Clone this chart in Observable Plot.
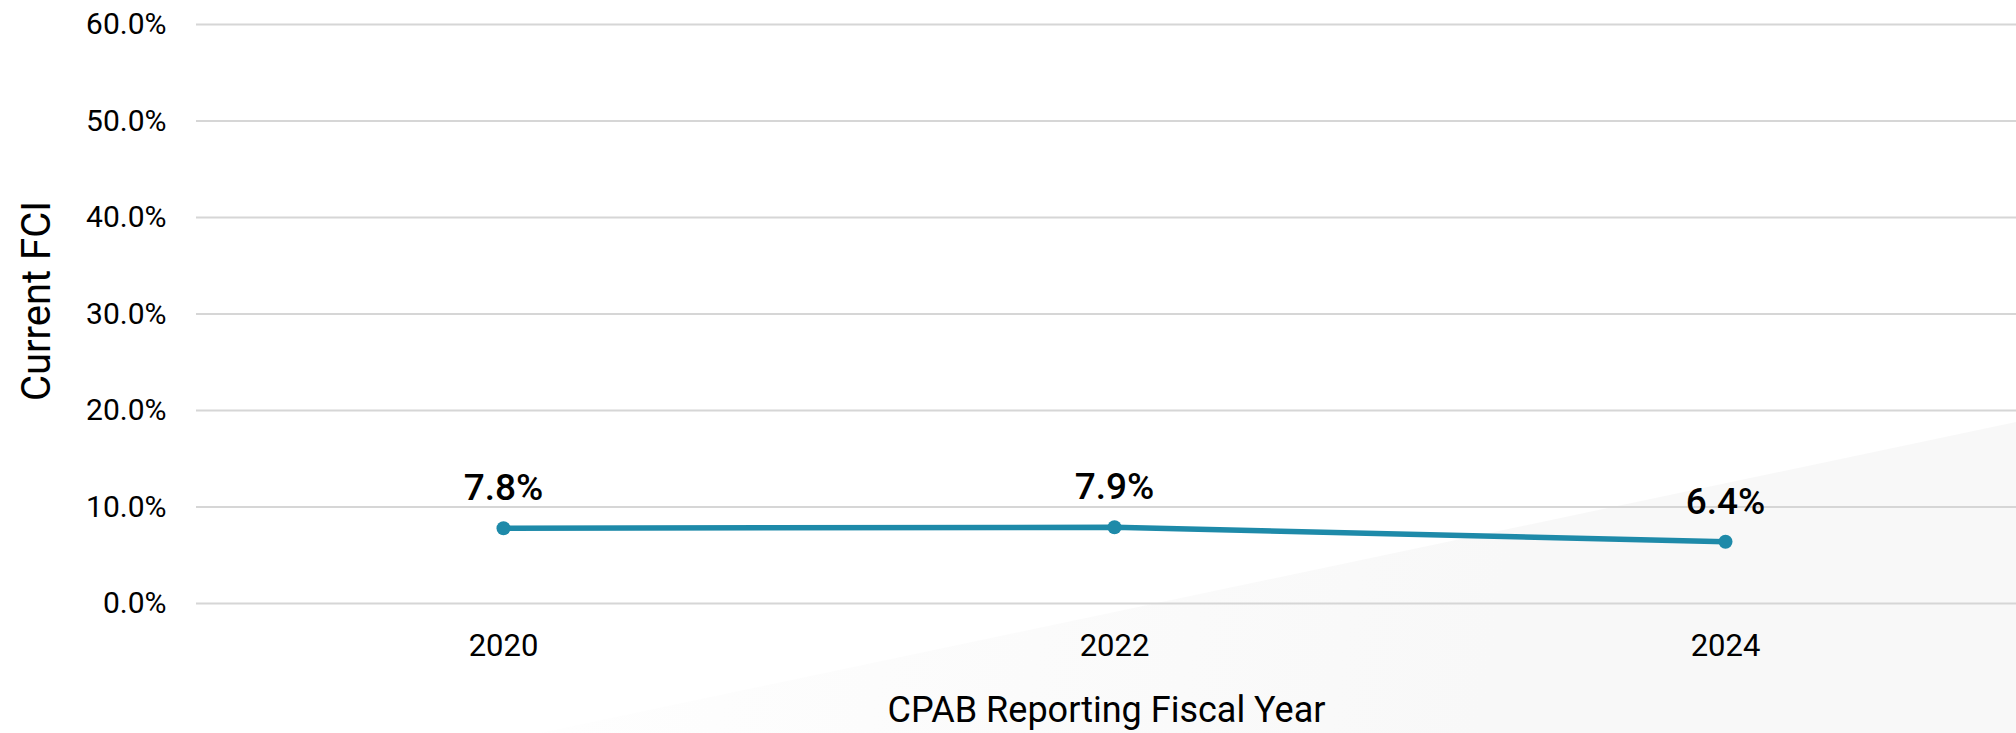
<!DOCTYPE html>
<html>
<head>
<meta charset="utf-8">
<script src="https://cdn.jsdelivr.net/npm/d3@7"></script>
<script src="https://cdn.jsdelivr.net/npm/@observablehq/plot@0.6"></script>
<style>
  html, body { margin: 0; padding: 0; background: #ffffff; }
  #wrap { position: relative; width: 2016px; height: 733px; overflow: hidden; }
  #bg { position: absolute; left: 0; top: 0; width: 2016px; height: 733px;
        background: linear-gradient(100deg, #ffffff 25%, #f8f8f8 75%);
        clip-path: polygon(540px 733px, 2016px 422px, 2016px 733px); }
  #chart { position: absolute; left: 0; top: 0; }
  #chart svg { background: transparent; }
</style>
</head>
<body>
<div id="wrap"><div id="bg"></div><div id="chart"></div></div>
<script>
const years = ["2020", "2022", "2024"];
const fciValues = [7.8, 7.9, 6.4];
const yTicks = [0, 10, 20, 30, 40, 50, 60];
const xTitle = "CPAB Reporting Fiscal Year";
const yTitle = "Current FCI";

const data = years.map((y, i) => ({year: y, value: fciValues[i]}));
const teal = "#1e8aa9";

const chart = Plot.plot({
  width: 2016,
  height: 733,
  marginLeft: 196,
  marginRight: 0,
  marginTop: 24,
  marginBottom: 130,
  style: {fontFamily: "Roboto", fontSize: "30px", color: "#000", background: "transparent"},
  x: {type: "point", domain: years, range: [197, 2030]},
  y: {domain: [0, 60]},
  marks: [
    Plot.ruleY(yTicks, {stroke: "#d6d6d6", strokeWidth: 2}),
    Plot.axisY({ticks: yTicks, tickSize: 0, tickPadding: 30, tickFormat: d => d.toFixed(1) + "%",
      fontSize: 30, label: null}),
    Plot.text([yTitle], {frameAnchor: "left", rotate: -90, lineAnchor: "top", textAnchor: "middle",
      dx: -175, dy: -13, fontSize: 40, fill: "#000"}),
    Plot.axisX({tickSize: 0, tickPadding: 30, fontSize: 31, label: null}),
    Plot.axisX({ticks: [], tickSize: 0, fontSize: 36, label: xTitle, labelAnchor: "center",
      labelOffset: 118, labelArrow: "none"}),
    Plot.line(data, {x: "year", y: "value", stroke: teal, strokeWidth: 5.5}),
    Plot.dot(data, {x: "year", y: "value", fill: teal, r: 7}),
    Plot.text(data, {x: "year", y: "value", text: d => d.value.toFixed(1) + "%", dy: -28,
      lineAnchor: "bottom", fontSize: 37, fontWeight: 500, fill: "#000"})
  ]
});
document.getElementById("chart").appendChild(chart);
</script>
</body>
</html>
